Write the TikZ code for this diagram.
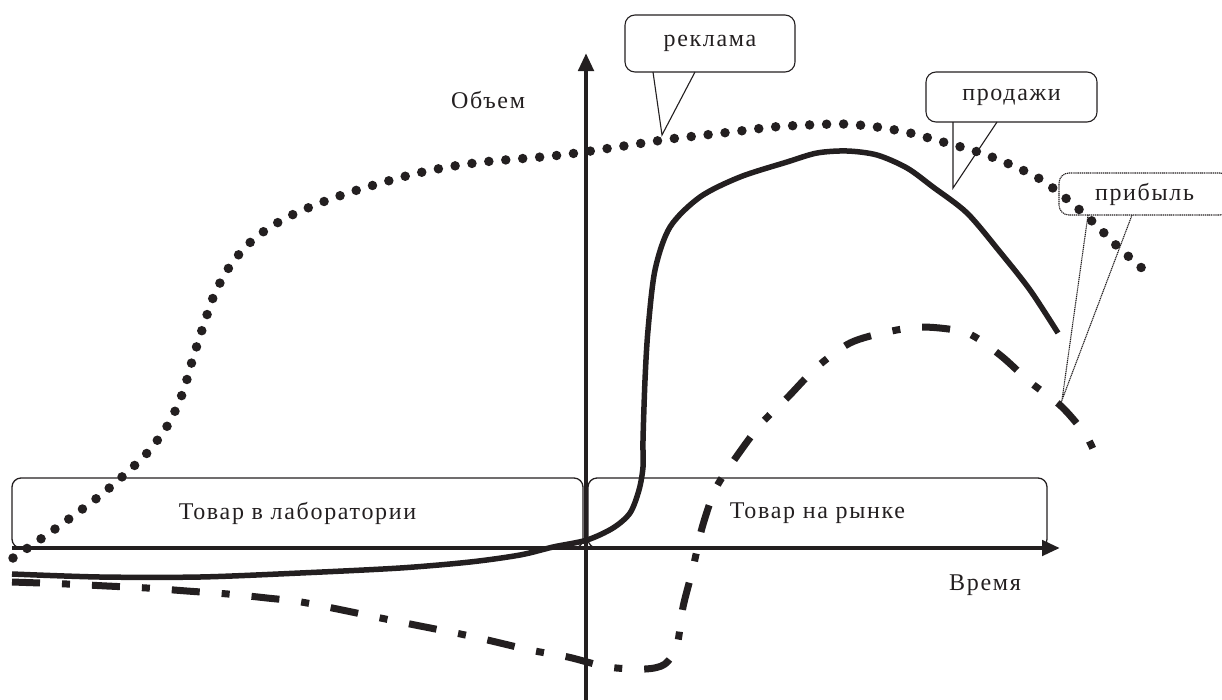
\documentclass[tikz,border=0pt]{standalone}
\usepackage{fontspec}
\setmainfont{Liberation Serif}[LetterSpace=7]
\usetikzlibrary{arrows.meta}
\definecolor{ink}{HTML}{231F20}
\begin{document}
\begin{tikzpicture}[x=1pt,y=-1pt,
  lbl/.style={font=\fontsize{24}{28}\selectfont, text=ink},
  phase/.style={draw=ink, line width=1.3pt, rounded corners=9pt, inner sep=0pt, lbl},
  callbox/.style={draw=ink, line width=1.1pt, rounded corners=10pt, inner sep=0pt, lbl},
  tail/.style={draw=ink, line width=1.1pt, line join=miter},
  fineddot/.style={dash pattern=on 1.2pt off 0.7pt},
  axisline/.style={draw=ink, line width=4.5pt, -{Triangle[length=18pt,width=15pt]}},
  advert/.style={draw=ink, line width=9.5pt, line cap=round, dash pattern=on 0pt off 17pt},
  salesline/.style={draw=ink, line width=5.5pt},
  profitline/.style={draw=ink, line width=7pt, dash pattern=on 28pt off 22pt on 8pt off 22pt}]
\useasboundingbox (0,0) rectangle (1222,699);

% phase boxes
\node[phase, minimum width=571pt, minimum height=70pt] (lab) at (297.5,513) {Товар в лаборатории};
\node[phase, minimum width=459pt, minimum height=70pt] (mkt) at (817.5,513) {Товар на рынке};

% callouts
\node[callbox, minimum width=170pt, minimum height=57pt] (ad) at (710,43.5) {реклама};
\coordinate (adl) at (653,72); \coordinate (adr) at (695,72); \coordinate (adt) at (662,135);
\fill[white] ([yshift=-1.5pt]adl) -- ([yshift=-1.5pt]adr) -- (adt) -- cycle;
\draw[tail] (adl) -- (adt) -- (adr);

\node[callbox, minimum width=171pt, minimum height=50pt] (sales) at (1011.5,97) {продажи};
\coordinate (sl) at (953,122); \coordinate (sr) at (997,122); \coordinate (st) at (953,188);
\fill[white] ([yshift=-1.5pt]sl) -- ([yshift=-1.5pt]sr) -- (st) -- cycle;
\draw[tail] (sl) -- (st) -- (sr);

\node[callbox, fineddot, minimum width=171pt, minimum height=42pt] (profit) at (1144.5,194) {прибыль};
\coordinate (pl) at (1088,215); \coordinate (pr) at (1132,215); \coordinate (pt) at (1062,400);
\fill[white] ([yshift=-1.5pt]pl) -- ([yshift=-1.5pt]pr) -- (pt) -- cycle;
\draw[tail, fineddot] (pl) -- (pt) -- (pr);

% axes
\coordinate (xs) at (12,548); \coordinate (xe) at (1060,548);
\coordinate (ys) at (586,705); \coordinate (ye) at (586,53);
\draw[axisline] (xs) -- (xe);
\draw[axisline] (ys) -- (ye);
\node[lbl] (vol) at (488,100) {Объем};
\node[lbl] (time) at (985,585) {Время};

% advertising (dotted)
\draw[advert] plot[smooth] coordinates {(13,558) (55,529) (97,498) (123,476) (148,452) (169,423) (183,392) (193,358) (203,327) (215,293) (232,263) (255,238) (284,219) (315,205) (348,193) (381,183) (414,174) (448,167) (483,162) (517,159) (552,156) (584,152) (637,144) (670,139) (705,135) (740,131) (773,127) (808,125) (843,124) (877,127) (910,133) (943,142) (978,152) (1009,164) (1040,179) (1068,200) (1094,223) (1118,247) (1144,270)};

% sales (solid)
\draw[salesline] plot[smooth] coordinates {(12,574) (100,577) (200,577) (300,573) (400,568) (470,562) (520,555) (553,547) (587,540) (613,528) (630,513) (639,490) (643,467) (643,440) (645,380) (648,330) (655,270) (670,227) (700,197) (740,177) (787,162) (817,153) (847,151) (877,155) (907,168) (933,187) (967,213) (1000,252) (1030,290) (1058,333)};

% profit (dash-dot)
\draw[profitline] plot[smooth] coordinates {(12,582) (67,584) (107,586) (147,588) (187,591) (228,594) (267,598) (307,603) (400,622) (470,636) (530,650) (568,657) (608,667) (645,669) (665,664) (677,645) (683,607) (693,568) (702,528) (715,490) (732,463) (760,425) (788,397) (817,367) (850,343) (887,332) (923,327) (967,333) (1000,355) (1030,382) (1062,407) (1087,437) (1099,464)};
\end{tikzpicture}
\end{document}
